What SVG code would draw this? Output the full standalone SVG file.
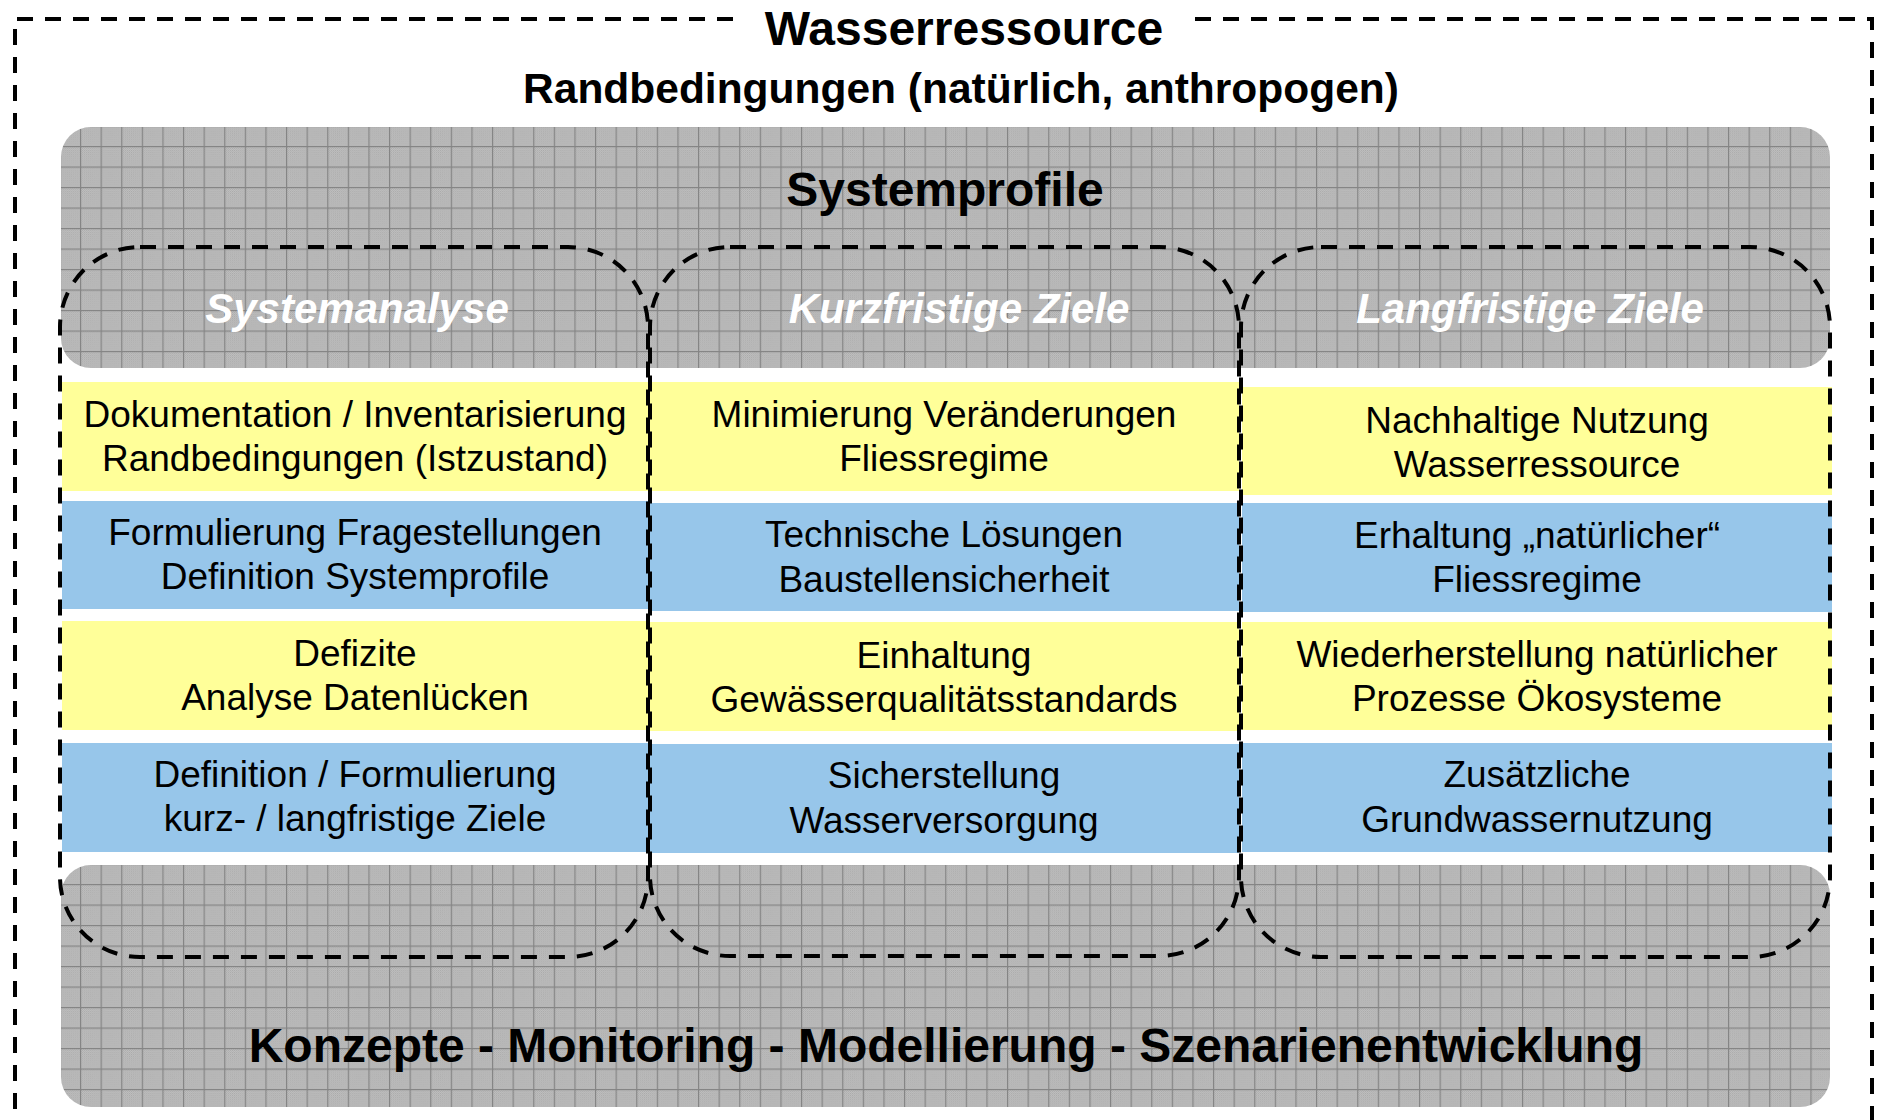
<svg xmlns="http://www.w3.org/2000/svg" width="1877" height="1120" viewBox="0 0 1877 1120">
<defs>
  <pattern id="chk" patternUnits="userSpaceOnUse" width="2" height="2">
    <rect width="2" height="2" fill="#c8c8c8"/>
    <rect width="1" height="1" fill="#a6a6a6"/>
    <rect x="1" y="1" width="1" height="1" fill="#a6a6a6"/>
  </pattern>
  <pattern id="grid" patternUnits="userSpaceOnUse" x="80" y="146" width="20.6" height="20.5">
    <rect width="20.6" height="20.5" fill="url(#chk)"/>
    <path d="M0.6,0 V20.5 M0,0.6 H20.6" stroke="#858585" stroke-width="1.2" fill="none"/>
  </pattern>
  <style>
    .band{fill:url(#grid);}
    .yel{fill:#ffff99;}
    .blu{fill:#97c6ea;}
    .t{font-family:"Liberation Sans",Arial,Helvetica,sans-serif;font-size:37px;fill:#000;text-anchor:middle;}
    .hb{font-family:"Liberation Sans",Arial,Helvetica,sans-serif;font-weight:bold;fill:#000;text-anchor:middle;}
    .col{font-family:"Liberation Sans",Arial,Helvetica,sans-serif;font-weight:bold;font-style:italic;font-size:42px;fill:#fff;text-anchor:middle;}
    .dash{fill:none;stroke:#000;stroke-width:4;stroke-dasharray:16 12;}
  </style>
</defs>
<rect width="1877" height="1120" fill="#fff"/>

<g id="wasserressource">
  <path class="dash" d="M733,19 H15 V1150 M1872,1150 V19 H1193"/>
  <text class="hb" x="964" y="45" font-size="48">Wasserressource</text>
  <text class="hb" x="961" y="103" font-size="42.5">Randbedingungen (natürlich, anthropogen)</text>
</g>

<g id="systemprofile">
  <rect class="band" x="61" y="127" width="1769" height="241" rx="30" ry="30"/>
  <text class="hb" x="945" y="206" font-size="48">Systemprofile</text>
  <text class="col" x="357" y="323">Systemanalyse</text>
  <text class="col" x="959" y="323">Kurzfristige Ziele</text>
  <text class="col" x="1530" y="323">Langfristige Ziele</text>
</g>

<g id="konzepte">
  <rect class="band" x="61" y="865" width="1769" height="242" rx="30" ry="30"/>
  <text class="hb" x="946" y="1062" font-size="48">Konzepte - Monitoring - Modellierung - Szenarienentwicklung</text>
</g>

<g id="systemanalyse-rows">
  <g id="sa1"><rect class="yel" x="62" y="382" width="586" height="109"/>
    <text class="t" x="355" y="427">Dokumentation / Inventarisierung</text>
    <text class="t" x="355" y="471">Randbedingungen (Istzustand)</text></g>
  <g id="sa2"><rect class="blu" x="62" y="501" width="586" height="108"/>
    <text class="t" x="355" y="545">Formulierung Fragestellungen</text>
    <text class="t" x="355" y="589">Definition Systemprofile</text></g>
  <g id="sa3"><rect class="yel" x="62" y="621" width="586" height="109"/>
    <text class="t" x="355" y="666">Defizite</text>
    <text class="t" x="355" y="710">Analyse Datenlücken</text></g>
  <g id="sa4"><rect class="blu" x="62" y="743" width="586" height="109"/>
    <text class="t" x="355" y="787">Definition / Formulierung</text>
    <text class="t" x="355" y="831">kurz- / langfristige Ziele</text></g>
</g>

<g id="kurzfristig-rows">
  <g id="kz1"><rect class="yel" x="650" y="382" width="589" height="109"/>
    <text class="t" x="944" y="427">Minimierung Veränderungen</text>
    <text class="t" x="944" y="471">Fliessregime</text></g>
  <g id="kz2"><rect class="blu" x="650" y="503" width="589" height="108"/>
    <text class="t" x="944" y="547">Technische Lösungen</text>
    <text class="t" x="944" y="592">Baustellensicherheit</text></g>
  <g id="kz3"><rect class="yel" x="650" y="622" width="589" height="109"/>
    <text class="t" x="944" y="668">Einhaltung</text>
    <text class="t" x="944" y="712">Gewässerqualitätsstandards</text></g>
  <g id="kz4"><rect class="blu" x="650" y="744" width="589" height="109"/>
    <text class="t" x="944" y="788">Sicherstellung</text>
    <text class="t" x="944" y="833">Wasserversorgung</text></g>
</g>

<g id="langfristig-rows">
  <g id="lf1"><rect class="yel" x="1242" y="387" width="590" height="108"/>
    <text class="t" x="1537" y="433">Nachhaltige Nutzung</text>
    <text class="t" x="1537" y="477">Wasserressource</text></g>
  <g id="lf2"><rect class="blu" x="1242" y="503" width="590" height="109"/>
    <text class="t" x="1537" y="548">Erhaltung „natürlicher“</text>
    <text class="t" x="1537" y="592">Fliessregime</text></g>
  <g id="lf3"><rect class="yel" x="1242" y="622" width="590" height="108"/>
    <text class="t" x="1537" y="667">Wiederherstellung natürlicher</text>
    <text class="t" x="1537" y="711">Prozesse Ökosysteme</text></g>
  <g id="lf4"><rect class="blu" x="1242" y="743" width="590" height="109"/>
    <text class="t" x="1537" y="787">Zusätzliche</text>
    <text class="t" x="1537" y="832">Grundwassernutzung</text></g>
</g>

<g id="column-outlines">
  <rect id="col-systemanalyse" class="dash" x="60" y="247" width="588" height="710" rx="80" ry="80"/>
  <rect id="col-kurzfristig" class="dash" x="650" y="247" width="589" height="709" rx="80" ry="80"/>
  <rect id="col-langfristig" class="dash" x="1241" y="247" width="589" height="710" rx="80" ry="80"/>
</g>
</svg>
